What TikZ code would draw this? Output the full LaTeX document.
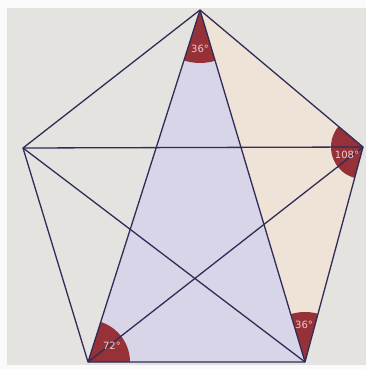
\documentclass[tikz,border=0pt]{standalone}
\usepackage{fontspec}
\setmainfont{DejaVu Sans}
\definecolor{bgwhite}{RGB}{250,250,250}
\definecolor{paper}{RGB}{228,227,223}
\definecolor{lav}{RGB}{216,213,232}
\definecolor{peach}{RGB}{239,226,214}
\definecolor{wedge}{RGB}{150,50,55}
\definecolor{ink}{RGB}{48,44,88}
\definecolor{lbl}{RGB}{235,205,205}
\tikzset{
  edge/.style={draw=ink, line width=1.3pt, line join=round},
  anglab/.style={text=lbl, font=\fontsize{10}{10}\selectfont, inner sep=0pt},
}
\begin{document}
\begin{tikzpicture}[x=1pt,y=-1pt]
\useasboundingbox (0,0) rectangle (366,369);
\fill[bgwhite] (0,0) rectangle (366,369);
\fill[paper] (7,8) rectangle (366,365);
\coordinate (T) at (200,10);
\coordinate (R) at (363,147);
\coordinate (BR) at (305,362);
\coordinate (BL) at (88,362);
\coordinate (L) at (23,148);
% shaded triangles
\fill[lav] (T) -- (BL) -- (BR) -- cycle;
\fill[peach] (T) -- (R) -- (BR) -- cycle;
% angle wedges
\begin{scope}
  \clip (T) -- (BL) -- (BR) -- cycle;
  \fill[wedge] (T) circle[radius=53];
  \fill[wedge] (BL) circle[radius=42];
\end{scope}
\begin{scope}
  \clip (T) -- (R) -- (BR) -- cycle;
  \fill[wedge] (R) circle[radius=32];
  \fill[wedge] (BR) circle[radius=50];
\end{scope}
% pentagon
\draw[edge] (T) -- (R) -- (BR) -- (BL) -- (L) -- cycle;
% diagonals
\draw[edge] (L) -- (R);
\draw[edge] (L) -- (BR);
\draw[edge] (T) -- (BL);
\draw[edge] (T) -- (BR);
\draw[edge] (R) -- (BL);
% labels
\node[anglab] (a1) at (200,49) {36°};
\node[anglab] (a2) at (347,155) {108°};
\node[anglab] (a3) at (112,346) {72°};
\node[anglab] (a4) at (304,325) {36°};
\end{tikzpicture}
\end{document}
